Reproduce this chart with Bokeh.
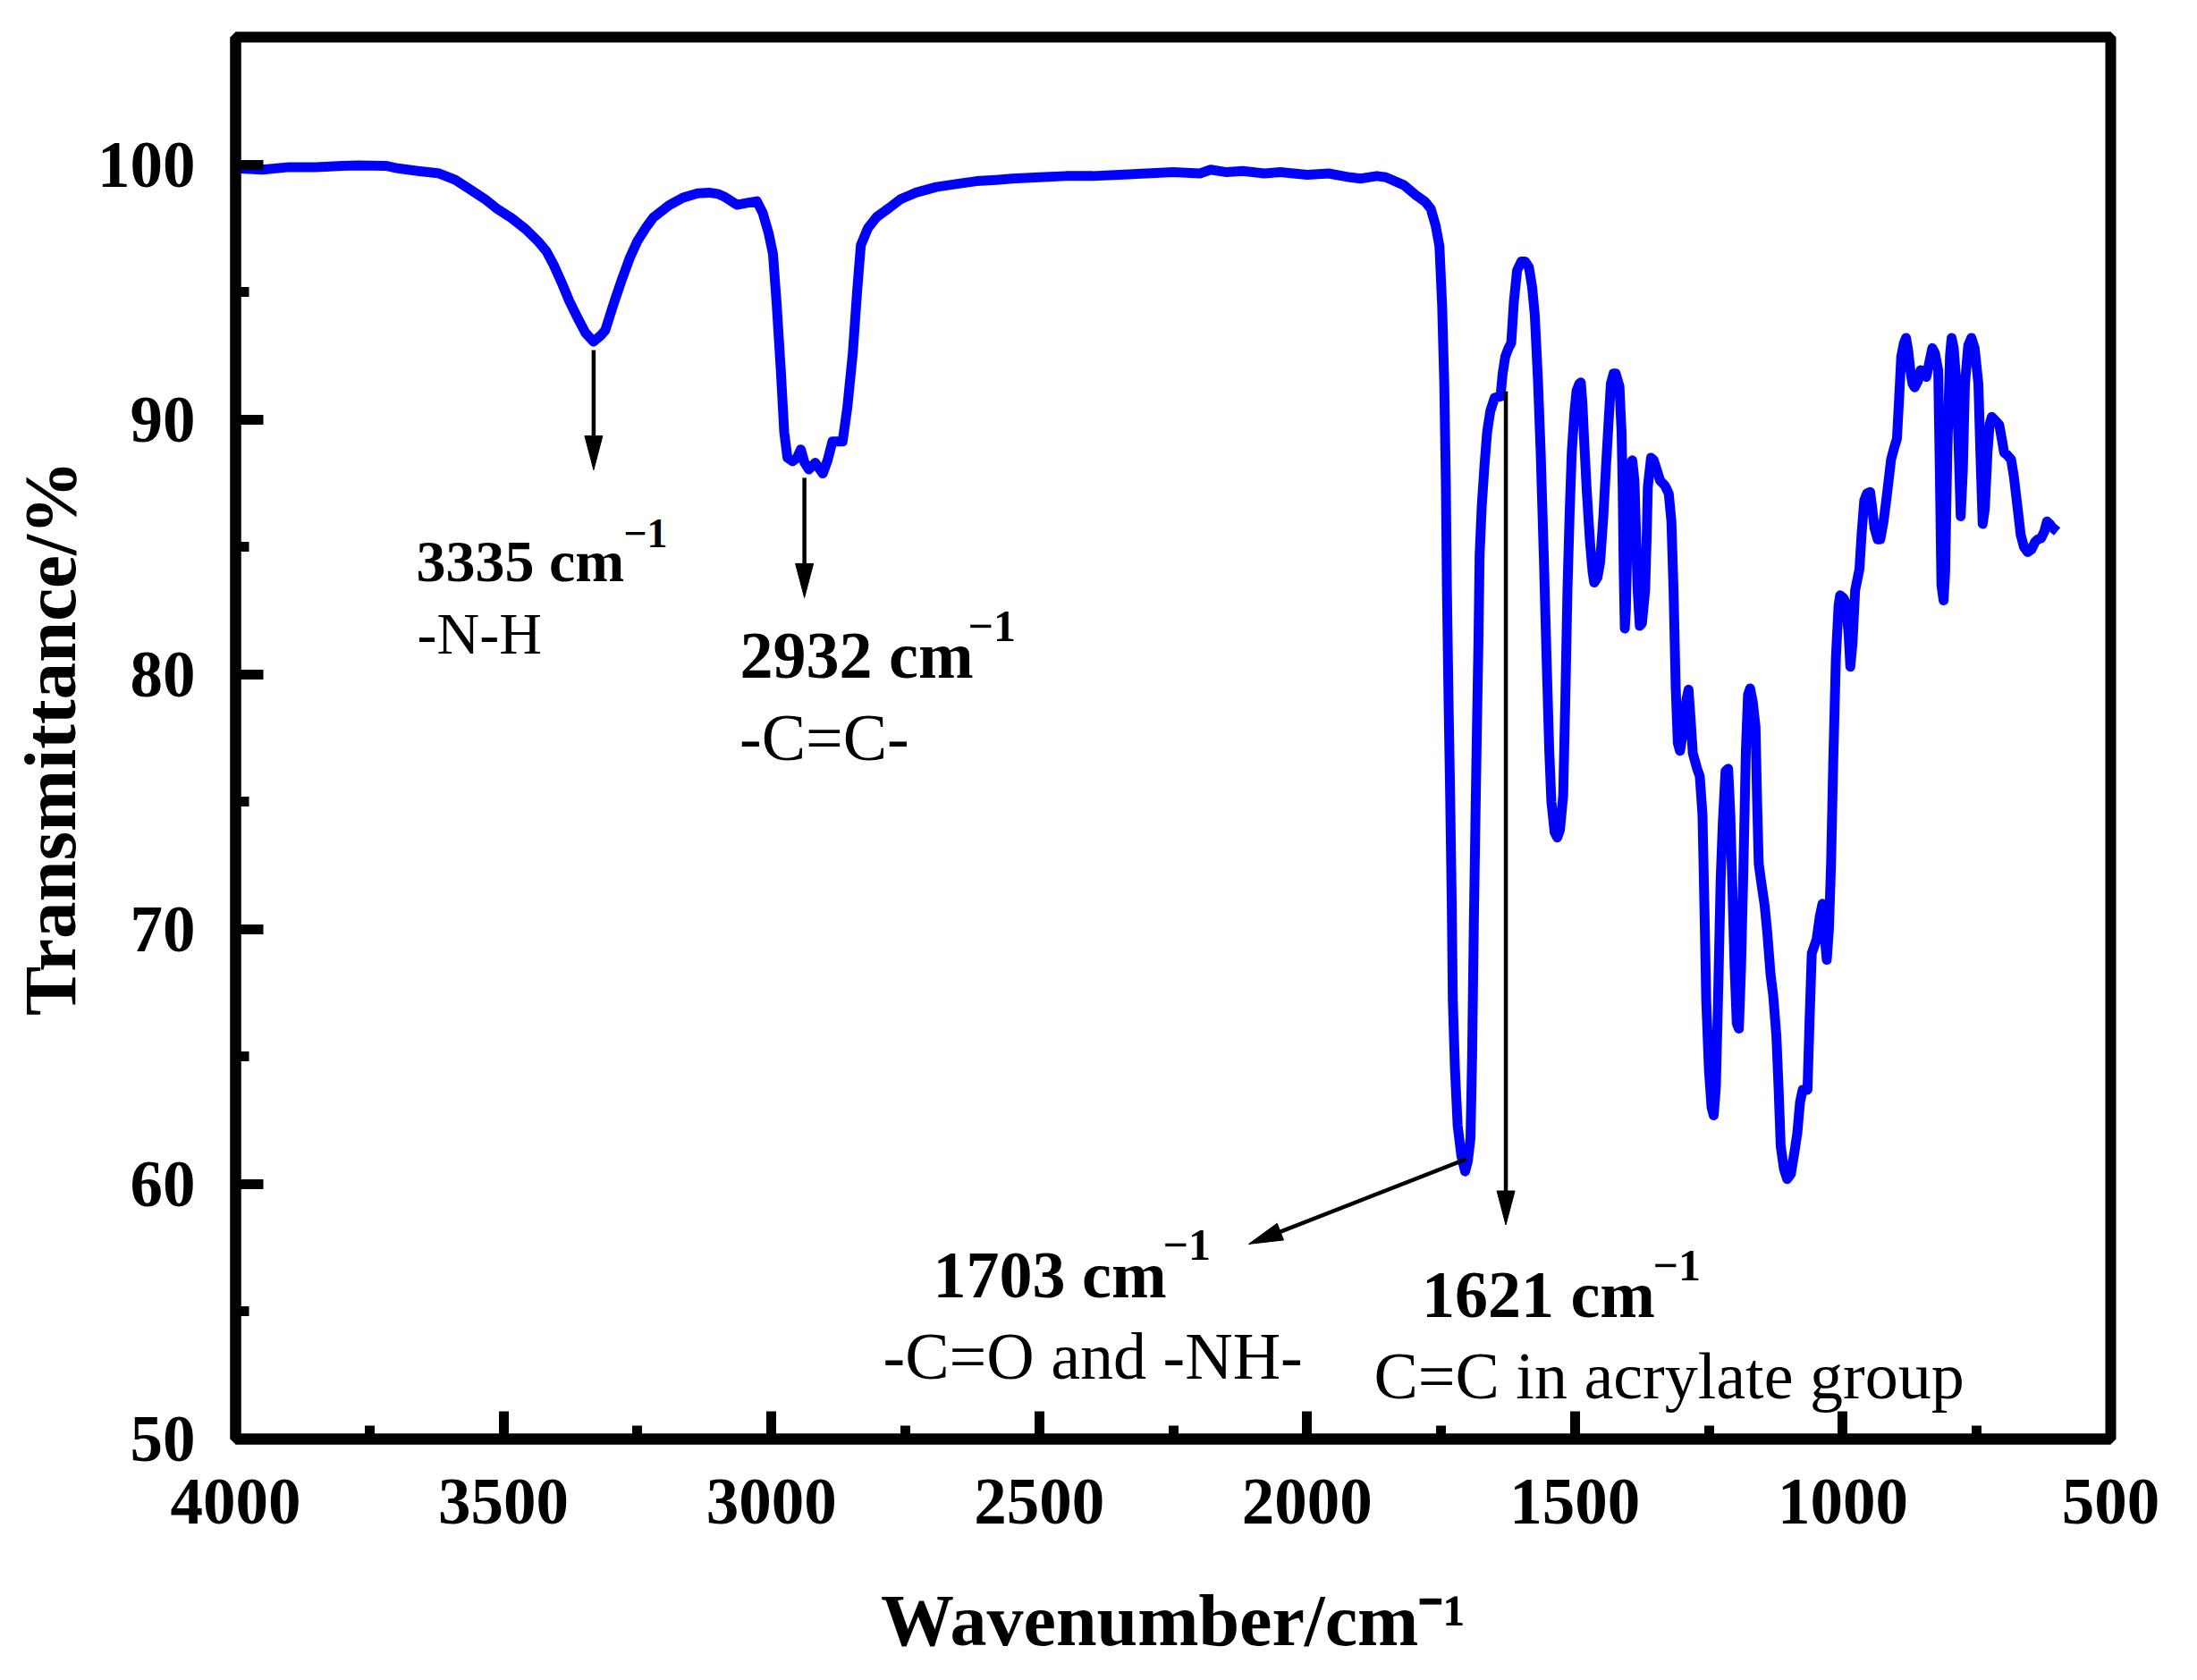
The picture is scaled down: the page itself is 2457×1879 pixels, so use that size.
import math
from bokeh.plotting import figure
from bokeh.models import Range1d, SingleIntervalTicker
from bokeh.core.properties import value
from bokeh.embed import file_html
from bokeh.resources import INLINE

# ---------------- data ----------------
wavenumber = [
    4000, 3950, 3900, 3850, 3800, 3771, 3720, 3697, 3660, 3622, 3590, 3563, 3535, 3511,
    3485, 3459, 3436, 3420, 3406, 3390, 3377, 3362, 3347, 3332, 3318, 3310, 3295, 3280,
    3265, 3250, 3235, 3220, 3191, 3165, 3138, 3116, 3100, 3086, 3064, 3045, 3027, 3016,
    3005, 2997, 2990, 2982, 2976, 2970, 2960, 2952, 2945, 2938, 2930, 2918, 2904, 2895,
    2886, 2867, 2858, 2848, 2840, 2833, 2820, 2804, 2780, 2759, 2730, 2692, 2650, 2617,
    2580, 2550, 2500, 2450, 2400, 2350, 2300, 2250, 2200, 2180, 2150, 2120, 2080, 2050,
    2000, 1960, 1920, 1900, 1870, 1853, 1820, 1797, 1780, 1769, 1760, 1753, 1748, 1744,
    1741, 1739, 1736, 1733, 1730, 1728, 1724, 1719, 1712, 1705, 1700, 1695, 1692, 1689,
    1686, 1683, 1680, 1678, 1674, 1669, 1664, 1658, 1650, 1639, 1635, 1630, 1624, 1619,
    1614, 1608, 1600, 1593, 1586, 1580, 1575, 1569, 1564, 1558, 1553, 1548, 1544, 1538,
    1533, 1528, 1522, 1518, 1514, 1510, 1506, 1501, 1497, 1492, 1489, 1486, 1483, 1478,
    1472, 1467, 1464, 1458, 1453, 1447, 1442, 1437, 1433, 1428, 1424, 1417, 1413, 1411,
    1409, 1407, 1405, 1403, 1400, 1397, 1393, 1389, 1386, 1383, 1379, 1375, 1369, 1366,
    1364, 1358, 1353, 1347, 1341, 1332, 1325, 1320, 1316, 1312, 1308, 1304, 1297, 1292,
    1288, 1284, 1280, 1272, 1267, 1262, 1258, 1255, 1250, 1245, 1241, 1237, 1233, 1228,
    1224, 1219, 1214, 1210, 1206, 1202, 1198, 1194, 1190, 1186, 1181, 1177, 1173, 1168,
    1163, 1160, 1157, 1152, 1146, 1141, 1135, 1130, 1124, 1120, 1116, 1110, 1104, 1097,
    1090, 1085, 1080, 1075, 1066, 1062, 1058, 1049, 1043, 1038, 1033, 1030, 1026, 1022,
    1018, 1013, 1008, 1005, 999, 994, 989, 986, 982, 977, 969, 965, 960, 955,
    949, 945, 941, 935, 930, 924, 919, 914, 910, 904, 899, 895, 891, 886,
    882, 878, 874, 870, 866, 860, 855, 849, 844, 838, 833, 828, 822, 819,
    816, 812, 809, 805, 800, 797, 793, 788, 784, 780, 776, 772, 766, 760,
    754, 747, 743, 739, 735, 730, 726, 722, 715, 708, 703, 699, 693, 686,
    681, 677, 672, 668, 662, 655, 648, 641, 636, 630, 624, 619, 614, 608,
    600,
]
transmittance = [
    99.85, 99.8, 99.9, 99.9, 99.95, 99.97, 99.95, 99.85, 99.75, 99.66, 99.4, 99.03, 98.65, 98.25,
    97.9, 97.47, 97.0, 96.6, 96.05, 95.3, 94.64, 94.0, 93.4, 93.05, 93.3, 93.5, 94.5, 95.43,
    96.3, 97.0, 97.5, 97.93, 98.4, 98.7, 98.87, 98.9, 98.85, 98.72, 98.42, 98.5, 98.56, 98.1,
    97.3, 96.5, 94.5, 91.8, 89.5, 88.5, 88.36, 88.5, 88.82, 88.3, 88.04, 88.3, 87.88, 88.4,
    89.14, 89.14, 90.5, 92.6, 95.0, 96.83, 97.5, 97.93, 98.3, 98.64, 98.9, 99.12, 99.25, 99.35,
    99.4, 99.45, 99.5, 99.55, 99.55, 99.6, 99.65, 99.7, 99.65, 99.8, 99.7, 99.75, 99.65, 99.7,
    99.6, 99.65, 99.5, 99.45, 99.55, 99.5, 99.2, 98.8, 98.55, 98.26, 97.6, 96.8, 94.5, 91.4,
    87.5, 83.3, 79.0, 75.25, 71.0, 67.2, 64.5, 62.3, 61.1, 60.5, 60.9, 61.8, 65.0, 69.86,
    74.0, 77.9, 81.5, 84.66, 86.6, 88.17, 89.5, 90.33, 90.85, 90.9, 91.8, 92.47, 92.8, 93.0,
    94.63, 95.85, 96.2, 96.2, 95.97, 95.2, 94.1, 91.5, 88.7, 84.5, 80.63, 77.0, 75.0, 73.8,
    73.6, 73.9, 75.25, 79.0, 83.3, 86.3, 88.7, 90.3, 91.13, 91.4, 91.45, 90.6, 89.24, 87.2,
    85.2, 84.0, 83.6, 83.8, 84.4, 86.2, 88.17, 90.0, 91.4, 91.8, 91.8, 91.3, 89.5, 87.36,
    84.0, 81.8, 82.5, 84.4, 86.5, 88.2, 88.4, 87.6, 85.5, 83.3, 81.9, 82.0, 83.3, 85.5,
    87.36, 88.5, 88.4, 88.0, 87.6, 87.4, 87.1, 86.0, 83.3, 79.5, 77.3, 77.0, 77.9, 79.0,
    79.4, 78.2, 76.9, 76.3, 76.0, 74.5, 70.5, 67.2, 64.5, 63.0, 62.7, 63.8, 67.2, 72.0,
    74.2, 76.2, 76.3, 74.5, 71.5, 68.5, 66.3, 66.1, 68.5, 72.0, 77.0, 79.2, 79.45, 78.9,
    77.95, 75.0, 72.56, 71.8, 70.94, 69.86, 68.24, 67.4, 65.8, 63.8, 61.5, 60.6, 60.2, 60.4,
    61.3, 62.0, 63.2, 63.7, 63.7, 66.5, 69.05, 69.6, 70.5, 71.0, 69.5, 68.8, 70.0, 72.56,
    76.5, 80.63, 82.7, 83.1, 83.0, 82.78, 81.5, 80.3, 81.2, 83.3, 84.13, 85.5, 86.82, 87.1,
    87.15, 86.5, 85.74, 85.3, 85.3, 86.0, 86.82, 87.7, 88.43, 88.9, 89.24, 90.8, 92.47, 93.0,
    93.2, 92.7, 91.93, 91.4, 91.26, 91.5, 91.93, 91.9, 91.67, 92.3, 92.8, 92.6, 91.93, 88.0,
    83.5, 82.9, 84.0, 88.7, 92.5, 93.2, 92.8, 91.4, 89.0, 86.2, 88.0, 91.4, 92.9, 93.2,
    92.8, 91.4, 88.5, 85.9, 86.5, 88.7, 89.8, 90.1, 89.95, 89.78, 89.2, 88.7, 88.6, 88.43,
    87.8, 87.1, 86.2, 85.47, 85.0, 84.8, 84.9, 85.2, 85.3, 85.34, 85.6, 86.0, 85.9, 85.74,
    85.6,
]

# peak annotations (data coordinates)
peak_labels = ["3335 cm", "2932 cm", "1703 cm", "1621 cm"]
peak_label_x = [3663.0, 3058.5, 2698.0, 1786.0]
peak_label_y = [84.45, 80.74, 56.43, 55.68]
sup_x = [3276.0, 2633.0, 2269.0, 1354.6]
sup_y = [85.53, 81.90, 57.61, 56.82]
group_labels = ["-N-H", "-C=C-", "-C=O and -NH-", "C=C in acrylate group"]
group_x = [3661.0, 3059.5, 2791.5, 1875.5]
group_y = [81.60, 77.53, 53.24, 52.48]
label_sizes = [66, 74, 74, 74]
sup_sizes = [46, 50, 50, 50]
arrow_x0 = [3331.7, 2938.3, 1702.9, 1629.0]
arrow_y0 = [92.72, 87.71, 60.98, 91.10]
arrow_x1 = [3331.7, 2938.3, 2109.0, 1629.0]
arrow_y1 = [88.02, 83.01, 57.65, 58.40]

x_title = "Wavenumber/cm\u207b\u00b9"
y_title = "Transmittance/%"

# ---------------- figure ----------------
X_START, X_END = 4000, 500
Y_BOTTOM, Y_TOP = 50, 105
FRAME_W, FRAME_H = 2097, 1568
FONT = "Liberation Serif"

p = figure(
    output_backend="svg", toolbar_location=None,
    frame_width=FRAME_W, frame_height=FRAME_H,
    min_border_left=263, min_border_top=41, min_border_right=90, min_border_bottom=261,
    x_range=Range1d(X_START, X_END), y_range=Range1d(Y_BOTTOM, Y_TOP),
    background_fill_color="white", border_fill_color="white",
)
p.xgrid.visible = False
p.ygrid.visible = False
p.outline_line_color = "black"
p.outline_line_width = 12

p.xaxis.ticker = SingleIntervalTicker(interval=500, num_minor_ticks=2)
p.yaxis.ticker = SingleIntervalTicker(interval=10, num_minor_ticks=2)
for ax in (p.xaxis[0], p.yaxis[0]):
    ax.axis_line_color = "black"
    ax.axis_line_width = 12
    ax.major_tick_in = 31
    ax.major_tick_out = 0
    ax.minor_tick_in = 15
    ax.minor_tick_out = 0
    ax.major_tick_line_width = 11
    ax.minor_tick_line_width = 11
    ax.major_tick_line_color = "black"
    ax.minor_tick_line_color = "black"
    ax.major_label_text_font = FONT
    ax.major_label_text_font_style = "bold"
    ax.major_label_text_font_size = "73px"
    ax.major_label_text_color = "black"
    ax.axis_label_text_font = FONT
    ax.axis_label_text_font_style = "bold"
    ax.axis_label_text_color = "black"
p.xaxis.major_label_standoff = 45
p.yaxis.major_label_standoff = 45

p.yaxis.axis_label = y_title
p.yaxis.axis_label_text_font_size = "83px"
p.yaxis.axis_label_standoff = 4

p.xaxis.axis_label = x_title
p.xaxis.axis_label_text_font_size = "82px"
p.xaxis.axis_label_standoff = 60

# spectrum
p.line(wavenumber, transmittance, line_color="#0000FF", line_width=11, line_join="round")

# arrows (shaft + filled head computed in screen pixels)
SX = FRAME_W / (X_START - X_END)
SY = FRAME_H / (Y_TOP - Y_BOTTOM)
HEAD_L, HEAD_HW = 38.0, 10.0
for x0, y0, x1, y1 in zip(arrow_x0, arrow_y0, arrow_x1, arrow_y1):
    dxp = -(x1 - x0) * SX
    dyp = -(y1 - y0) * SY
    n = math.hypot(dxp, dyp)
    ux, uy = dxp / n, dyp / n
    bx, by = -ux * HEAD_L, -uy * HEAD_L
    qx, qy = -uy * HEAD_HW, ux * HEAD_HW
    pts = [(0.0, 0.0), (bx + qx, by + qy), (bx - qx, by - qy)]
    hx = [x1 - px_ / SX for px_, _ in pts]
    hy = [y1 - py_ / SY for _, py_ in pts]
    base_x = x1 - (bx + ux * 2) / SX
    base_y = y1 - (by + uy * 2) / SY
    p.line([x0, base_x], [y0, base_y], line_color="black", line_width=4.5)
    p.patch(hx, hy, fill_color="black", line_color="black", line_width=1)

# annotation texts
for i in range(len(peak_labels)):
    p.text(x=[peak_label_x[i]], y=[peak_label_y[i]], text=[peak_labels[i]],
           text_font=value(FONT), text_font_style="bold",
           text_font_size=f"{label_sizes[i]}px", text_color="black",
           text_align="left", text_baseline="alphabetic")
    p.text(x=[sup_x[i]], y=[sup_y[i]], text=["\u22121"],
           text_font=value(FONT), text_font_style="bold",
           text_font_size=f"{sup_sizes[i]}px", text_color="black",
           text_align="left", text_baseline="alphabetic")
    p.text(x=[group_x[i]], y=[group_y[i]], text=[group_labels[i]],
           text_font=value(FONT), text_font_style="normal",
           text_font_size=f"{label_sizes[i]}px", text_color="black",
           text_align="left", text_baseline="alphabetic")

open("out.html", "w").write(file_html(p, INLINE))
